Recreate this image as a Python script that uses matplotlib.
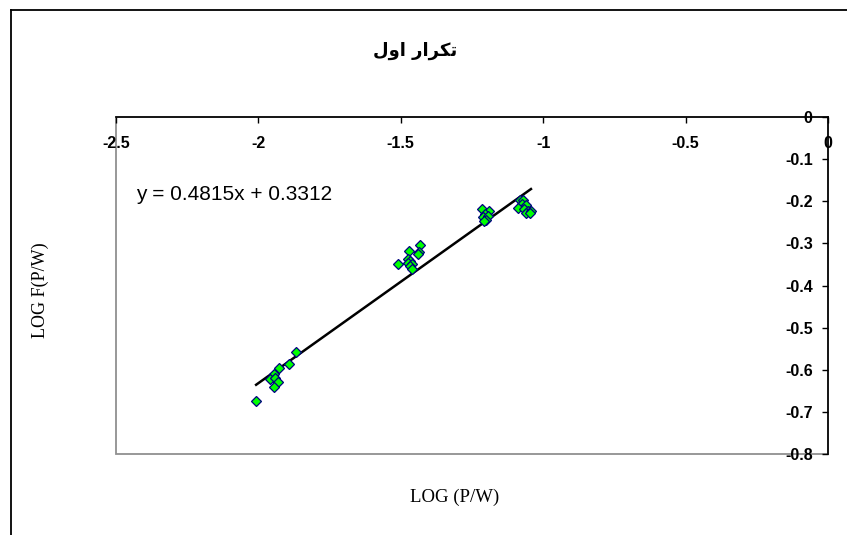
import numpy as np
import matplotlib.pyplot as plt
from matplotlib.patches import Rectangle
from matplotlib.lines import Line2D

# LOG (P/W) and LOG F(P/W) values
log_pw = [-1.867, -1.891, -1.926, -1.944, -1.959, -1.940, -1.932, -1.946, -2.008,
          -1.431, -1.472, -1.437, -1.439, -1.510, -1.476, -1.468, -1.476, -1.460, -1.468, -1.462,
          -1.214, -1.189, -1.204, -1.210, -1.193, -1.201, -1.208,
          -1.083, -1.071, -1.075, -1.060, -1.087, -1.069, -1.052, -1.060, -1.043, -1.048]
log_fpw = [-0.559, -0.586, -0.596, -0.610, -0.623, -0.620, -0.629, -0.641, -0.675,
           -0.304, -0.317, -0.320, -0.326, -0.349, -0.336, -0.343, -0.347, -0.350, -0.354, -0.362,
           -0.218, -0.224, -0.230, -0.237, -0.236, -0.244, -0.248,
           -0.198, -0.196, -0.206, -0.208, -0.216, -0.218, -0.222, -0.227, -0.224, -0.229]

slope = 0.4815
intercept = 0.3312

x_ticks = [-2.5, -2, -1.5, -1, -0.5, 0]
x_labels = ['-2.5', '-2', '-1.5', '-1', '-0.5', '0']
y_ticks = [0, -0.1, -0.2, -0.3, -0.4, -0.5, -0.6, -0.7, -0.8]
y_labels = ['0', '-0.1', '-0.2', '-0.3', '-0.4', '-0.5', '-0.6', '-0.7', '-0.8']

# "تكرار اول" written in shaped (presentation) forms, visual order
title = '\uFEDD\uFEED\uFE8D \uFEAD\uFE8D\uFEAE\uFEDC\uFE97'

plt.rcParams['font.family'] = ['Liberation Sans', 'DejaVu Sans']

W, H = 847, 535
fig = plt.figure(figsize=(W / 100, H / 100), dpi=100)
ax = fig.add_axes([116 / W, 1 - 454 / H, (828 - 116) / W, (454 - 117) / H])

ax.plot(log_pw, log_fpw, linestyle='none', marker='D', markersize=5,
        markerfacecolor='#00ff00', markeredgecolor='#000080', markeredgewidth=0.9, zorder=3)

xf = np.array([min(log_pw), max(log_pw)])
ax.plot(xf, slope * xf + intercept, color='black', linewidth=1.8, zorder=2)

ax.set_xlim(-2.5, 0)
ax.set_ylim(-0.8, 0)

ax.spines['left'].set_position(('data', 0))
ax.spines['bottom'].set_position(('data', 0))
ax.spines['top'].set_visible(False)
ax.spines['right'].set_visible(False)
for s in ('left', 'bottom'):
    ax.spines[s].set_color('black')
    ax.spines[s].set_linewidth(1.2)

ax.add_patch(Rectangle((0, 0), 1, 1, transform=ax.transAxes, fill=False,
                       edgecolor='#909090', linewidth=1.3, zorder=1, clip_on=False))

ax.set_xticks(x_ticks)
ax.set_xticklabels(x_labels, fontsize=11.5, fontweight='bold')
ax.set_yticks(y_ticks)
ax.set_yticklabels(y_labels, fontsize=11.5, fontweight='bold')
ax.tick_params(axis='both', length=4, width=1, color='black', pad=7)
ax.tick_params(axis='x', pad=10)

ax.text(-2.43, -0.185, 'y = 0.4815x + 0.3312', fontsize=15, ha='left', va='center')

fig.text(415 / W, 1 - 51 / H, title, family=['DejaVu Sans'], fontsize=13,
         fontweight='bold', ha='center', va='center')
fig.text(455 / W, 1 - 497 / H, 'LOG (P/W)', family=['Liberation Serif'], fontsize=13.5,
         ha='center', va='center')
fig.text(40 / W, 1 - 290 / H, 'LOG F(P/W)', family=['Liberation Serif'], fontsize=13,
         rotation=90, ha='center', va='center')

# outer frame (top and left edges)
fig.add_artist(Line2D([11 / W, 1], [1 - 10 / H, 1 - 10 / H], color='black', linewidth=1.3))
fig.add_artist(Line2D([11 / W, 11 / W], [0, 1 - 10 / H], color='black', linewidth=1.3))

fig.savefig('out.png', dpi=100)
